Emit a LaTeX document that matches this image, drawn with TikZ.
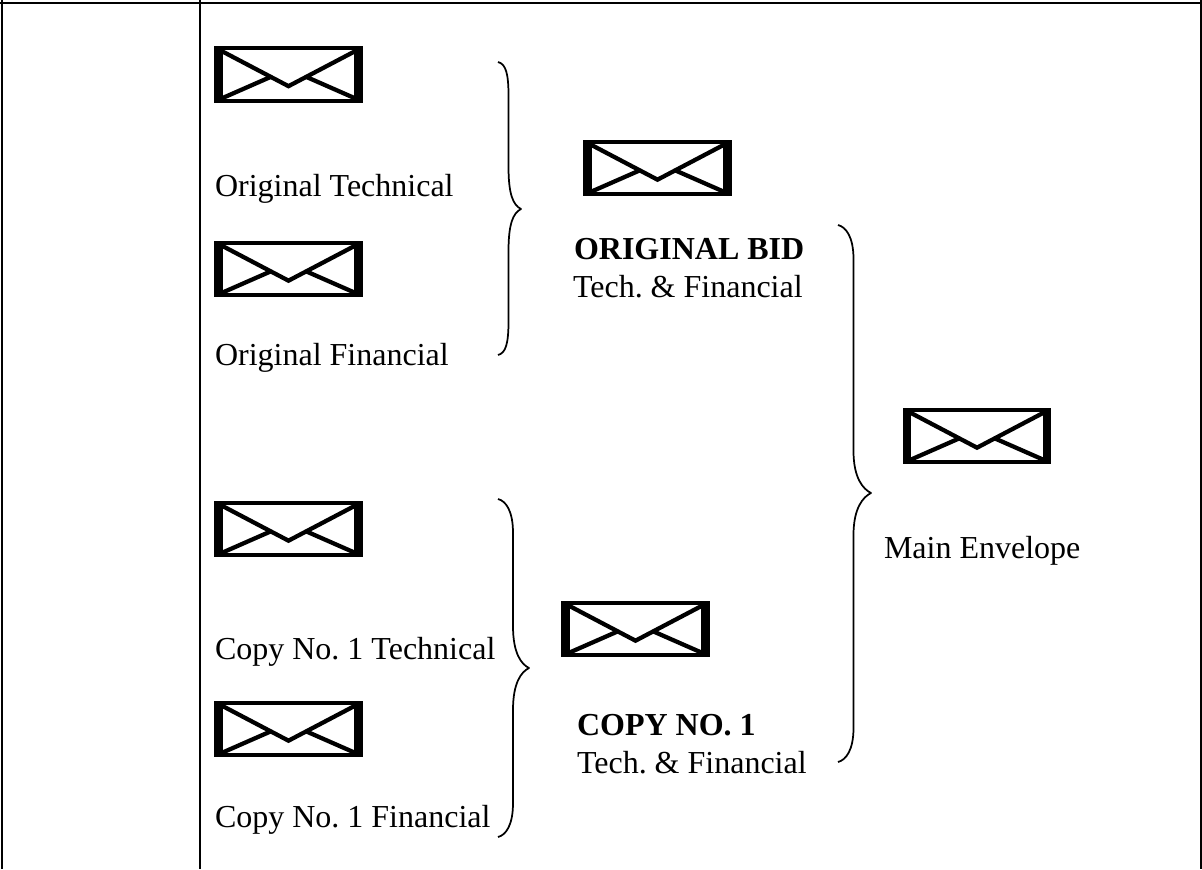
\documentclass[tikz,border=0pt]{standalone}
\usepackage{fontspec}
\setmainfont{Liberation Serif}
\usetikzlibrary{calc}
\tikzset{
  rule/.style={black,line width=2.2pt},
  brace/.style={black,line width=1.3pt,line join=round},
  label/.style={anchor=base west,inner sep=0pt,outer sep=0pt,font=\fontsize{24}{28}\selectfont\frenchspacing},
  envelope/.style={%
    rectangle,draw=black,line width=3pt,
    minimum width=108.5pt,minimum height=39.5pt,inner sep=0pt,
    path picture={%
      \fill[black] (path picture bounding box.south west) rectangle ++(5pt,41pt);
      \fill[black] (path picture bounding box.south east) rectangle ++(-5pt,41pt);
      \draw[black,line width=3.2pt]
        (path picture bounding box.north west) -- ++(54.25pt,-28.5pt)
        -- (path picture bounding box.north east);
      \draw[black,line width=3.2pt] (path picture bounding box.south west) -- ++(41pt,18pt);
      \draw[black,line width=3.2pt] (path picture bounding box.south east) -- ++(-41pt,18pt);
    }
  }
}
% brace from top end over tip to bottom end, #4 is on its spine
\newcommand{\envbrace}[4]{%
  \draw[brace] (#1) .. controls ($(#1)+(8,2)$) and ($(#1 -| #4)+(0,12)$) .. ($(#1 -| #4)+(0,34)$)
    -- ($(#2 -| #4)+(0,-42)$) .. controls ($(#2 -| #4)+(0,-15)$) and ($(#2)+(-8,-4)$) .. (#2)
    .. controls ($(#2)+(-8,4)$) and ($(#2 -| #4)+(0,15)$) .. ($(#2 -| #4)+(0,42)$)
    -- ($(#3 -| #4)+(0,-34)$) .. controls ($(#3 -| #4)+(0,-12)$) and ($(#3)+(8,-2)$) .. (#3);%
}
\begin{document}
\begin{tikzpicture}[x=0.75pt,y=-0.75pt]
  \useasboundingbox (0,0) rectangle (1202,869);
% table lines
  \coordinate (TL) at (0,3);
  \coordinate (TR) at (1202,3);
  \coordinate (LT) at (2,0);
  \coordinate (LB) at (2,869);
  \coordinate (MT) at (200,0);
  \coordinate (MB) at (200,869);
  \coordinate (RT) at (1201,0);
  \coordinate (RB) at (1201,869);
  \draw[rule] (TL) -- (TR);
  \draw[rule] (LT) -- (LB);
  \draw[rule] (MT) -- (MB);
  \draw[rule] (RT) -- (RB);
% envelopes
  \node[envelope] (OT) at (288.5,74.5) {};
  \node[envelope] (OF) at (288.5,269) {};
  \node[envelope] (OB) at (657.5,168) {};
  \node[envelope] (CT) at (288.5,529) {};
  \node[envelope] (CF) at (288.5,729) {};
  \node[envelope] (CB) at (635.5,629) {};
  \node[envelope] (ME) at (977,436) {};
% labels
  \node[label] (lOT) at (215,196) {Original Technical};
  \node[label] (lOF) at (215,365) {Original Financial};
  \node[label] (lOB) at (574,259) {\textbf{ORIGINAL BID}};
  \node[label] (lOC) at (573,297) {Tech. \& Financial};
  \node[label] (lCT) at (215,659) {Copy No. 1 Technical};
  \node[label] (lCF) at (215,827) {Copy No. 1 Financial};
  \node[label] (lCB) at (577,735) {\textbf{COPY NO. 1}};
  \node[label] (lCC) at (577,773) {Tech. \& Financial};
  \node[label] (lME) at (884,558) {Main Envelope};
% braces
  \coordinate (A1) at (498,62);
  \coordinate (A2) at (521,209);
  \coordinate (A3) at (498,355);
  \coordinate (AS) at (508.5,209);
  \coordinate (B1) at (498,499);
  \coordinate (B2) at (529,668);
  \coordinate (B3) at (498,837);
  \coordinate (BS) at (513,668);
  \coordinate (C1) at (838,225);
  \coordinate (C2) at (871,493);
  \coordinate (C3) at (838,762);
  \coordinate (CS) at (853.5,493);
  \envbrace{A1}{A2}{A3}{AS}
  \envbrace{B1}{B2}{B3}{BS}
  \envbrace{C1}{C2}{C3}{CS}
\end{tikzpicture}
\end{document}
